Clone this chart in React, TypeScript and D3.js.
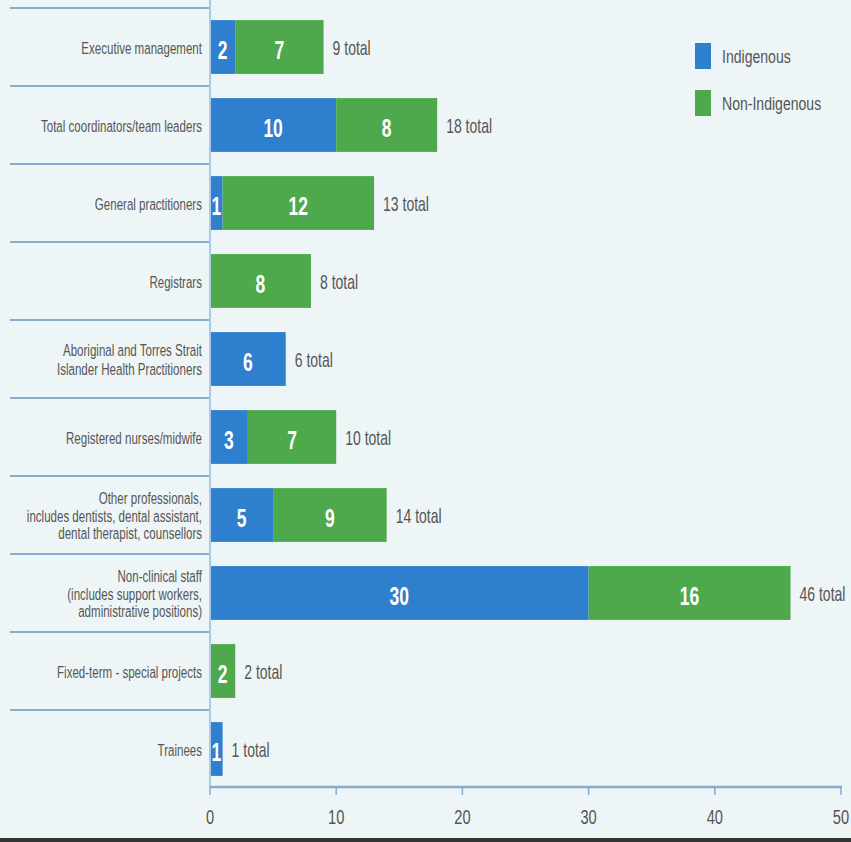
import React from "react";
import * as d3 from "d3";

const categories: string[][] = [
  ["Executive management"],
  ["Total coordinators/team leaders"],
  ["General practitioners"],
  ["Registrars"],
  ["Aboriginal and Torres Strait", "Islander Health Practitioners"],
  ["Registered nurses/midwife"],
  ["Other professionals,", "includes dentists, dental assistant,", "dental therapist, counsellors"],
  ["Non-clinical staff", "(includes support workers,", "administrative positions)"],
  ["Fixed-term - special projects"],
  ["Trainees"],
];
const indigenous = [2, 10, 1, 0, 6, 3, 5, 30, 0, 1];
const nonIndigenous = [7, 8, 12, 8, 0, 7, 9, 16, 2, 0];
const xTicks = [0, 10, 20, 30, 40, 50];
const seriesNames = ["Indigenous", "Non-Indigenous"];

const W = 851;
const H = 842;
const BLUE = "#2f7fcf";
const GREEN = "#4da94b";
const BG = "#eef5f6";
const TEXT = "#555";
const LINE = "#86acce";
const FONT = "'Liberation Sans', Arial, sans-serif";
const SX = 0.7;

type TProps = {
  x: number;
  y: number;
  size: number;
  anchor?: "start" | "middle" | "end";
  fill?: string;
  bold?: boolean;
  sx?: number;
  children: React.ReactNode;
};

function T({ x, y, size, anchor = "start", fill = TEXT, bold = false, sx = SX, children }: TProps) {
  return (
    <text
      transform={`translate(${x},${y}) scale(${sx},1)`}
      x={0}
      y={0}
      dy="0.36em"
      textAnchor={anchor}
      fill={fill}
      fontSize={size}
      fontWeight={bold ? "bold" : "normal"}
    >
      {children}
    </text>
  );
}

export default function App() {
  const x = d3.scaleLinear().domain([0, 50]).range([210, 841]);
  const ids = categories.map((_, i) => String(i));
  const y = d3.scaleBand().domain(ids).range([8, 788]).paddingInner(0.31).paddingOuter(0.155);
  const step = y.step();
  const rowTop = (i: number) => 8 + i * step;

  return (
    <svg
      width={W}
      height={H}
      style={{ position: "absolute", left: 0, top: 0, display: "block" }}
      fontFamily={FONT}
    >
      <rect x={0} y={0} width={W} height={H} fill={BG} />
      <rect x={0} y={838} width={W} height={4} fill="#333" />

      {/* row separators */}
      {ids.map((id, i) => (
        <line key={"sep" + id} x1={10} x2={210} y1={rowTop(i)} y2={rowTop(i)} stroke={LINE} strokeWidth={2} />
      ))}

      {/* bars */}
      {ids.map((id, i) => {
        const a = indigenous[i];
        const b = nonIndigenous[i];
        const y0 = y(id)!;
        const bh = y.bandwidth();
        const cy = y0 + bh / 2;
        const total = a + b;
        const lines = categories[i];
        const spacing = lines.length === 3 ? 17.5 : 19;
        const lsize = 16.5;
        return (
          <g key={"bar" + id}>
            {a > 0 && <rect x={x(0)} y={y0} width={x(a) - x(0)} height={bh} fill={BLUE} />}
            {b > 0 && <rect x={x(a)} y={y0} width={x(a + b) - x(a)} height={bh} fill={GREEN} />}
            {a > 0 && (
              <T x={(x(0) + x(a)) / 2} y={cy + 3} size={25} anchor="middle" fill="#fff" bold>
                {a}
              </T>
            )}
            {b > 0 && (
              <T x={(x(a) + x(a + b)) / 2} y={cy + 3} size={25} anchor="middle" fill="#fff" bold>
                {b}
              </T>
            )}
            <T x={x(total) + 9} y={cy + 1} size={20}>
              {total} total
            </T>
            {lines.map((ln, k) => (
              <T key={k} x={202} y={cy + 1 + (k - (lines.length - 1) / 2) * spacing} size={lsize} anchor="end">
                {ln}
              </T>
            ))}
          </g>
        );
      })}

      {/* vertical axis line */}
      <line x1={210} x2={210} y1={0} y2={788} stroke="#a9cbe8" strokeWidth={2} />

      {/* x axis */}
      <line x1={210} x2={842} y1={787} y2={787} stroke={LINE} strokeWidth={2.5} />
      {xTicks.map((t) => (
        <g key={"t" + t}>
          <line x1={x(t)} x2={x(t)} y1={787} y2={795} stroke={LINE} strokeWidth={1.5} />
          <T x={x(t)} y={816} size={21} anchor="middle">
            {t}
          </T>
        </g>
      ))}

      {/* legend */}
      {seriesNames.map((s, i) => (
        <g key={"lg" + s}>
          <rect x={695} y={43 + i * 47} width={16} height={26} fill={i === 0 ? BLUE : GREEN} />
          <T x={722} y={56 + i * 47} size={19} sx={0.74}>
            {s}
          </T>
        </g>
      ))}
    </svg>
  );
}
